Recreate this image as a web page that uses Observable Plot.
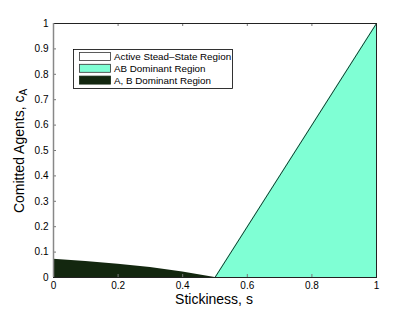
<!DOCTYPE html>
<html>
<head>
<meta charset="utf-8">
<script src="https://cdn.jsdelivr.net/npm/d3@7"></script>
<script src="https://cdn.jsdelivr.net/npm/@observablehq/plot@0.6"></script>
<style>
html,body{margin:0;padding:0;background:#fff;}
svg{display:block;}
</style>
</head>
<body>
<div id="chart"></div>
<script>
// A, B dominant region boundary
const abS = [0, 0.1, 0.2, 0.3, 0.4, 0.5];
const abC = [0.072, 0.063, 0.052, 0.039, 0.022, 0];
// AB dominant region boundary
const domS = [0.5, 1];
const domC = [0, 1];
const xTicks = [0, 0.2, 0.4, 0.6, 0.8, 1];
const yTicks = [0, 0.1, 0.2, 0.3, 0.4, 0.5, 0.6, 0.7, 0.8, 0.9, 1];
const legendLabels = ["Active Stead\u2013State Region", "AB Dominant Region", "A, B Dominant Region"];
const legendColors = ["#ffffff", "#7fffd4", "#13270f"];

const abData = abS.map((s, i) => ({s, c: abC[i]}));
const domData = domS.map((s, i) => ({s, c: domC[i]}));

const font = "Liberation Sans, Arial, Helvetica, sans-serif";
const W = 415, H = 312, mL = 53, mR = 39, mT = 23, mB = 35;
const fw = W - mL - mR, fh = H - mT - mB, tl = 3;

const plot = Plot.plot({
  width: W,
  height: H,
  marginLeft: mL,
  marginRight: mR,
  marginTop: mT,
  marginBottom: mB,
  style: {fontFamily: font, fontSize: "10px", background: "#fff", color: "#000"},
  x: {domain: [0, 1], label: null},
  y: {domain: [0, 1], label: null},
  marks: [
    Plot.tickY(yTicks, {y: d => d, insetLeft: fw - tl, stroke: "#777"}),
    Plot.areaY(abData, {x: "s", y: "c", fill: legendColors[2]}),
    Plot.areaY(domData, {x: "s", y: "c", fill: legendColors[1]}),
    Plot.line(domData, {x: "s", y: "c", stroke: "#000", strokeWidth: 0.8}),
    Plot.tickX(xTicks, {x: d => d, insetTop: fh - tl, stroke: "#777"}),
    Plot.tickX(xTicks, {x: d => d, insetBottom: fh - tl, stroke: "#777"}),
    Plot.tickY(yTicks, {y: d => d, insetRight: fw - tl, stroke: "#777"}),
    Plot.frame({stroke: "#222", strokeWidth: 1}),
    Plot.ruleX([0], {stroke: "#888", strokeWidth: 1.5}),
    Plot.axisX(xTicks, {anchor: "bottom", tickSize: 0, tickPadding: 4, tickFormat: d => String(d), fontSize: 10}),
    Plot.axisY(yTicks, {anchor: "left", tickSize: 0, tickPadding: 5, tickFormat: d => String(d), fontSize: 10})
  ]
});

document.getElementById("chart").appendChild(plot);

const svg = d3.select(plot);
// x label
svg.append("text")
  .attr("x", 214).attr("y", 304)
  .attr("text-anchor", "middle")
  .attr("font-family", font).attr("font-size", 14)
  .text("Stickiness, s");
// y label with subscript
const yl = svg.append("text")
  .attr("transform", "translate(24,151) rotate(-90)")
  .attr("text-anchor", "middle")
  .attr("font-family", font).attr("font-size", 14);
yl.append("tspan").text("Comitted Agents, c");
yl.append("tspan").attr("font-size", 10).attr("dy", 3).text("A");

// legend
const lg = svg.append("g").attr("font-family", font).attr("font-size", 9.8).attr("text-anchor", "start");
lg.append("rect").attr("x", 73.5).attr("y", 49.5).attr("width", 159).attr("height", 39)
  .attr("fill", "#fff").attr("stroke", "#000").attr("stroke-width", 0.8);
legendLabels.forEach((lab, i) => {
  const y0 = 52.5 + i * 11.8;
  lg.append("rect").attr("x", 79.5).attr("y", y0).attr("width", 31).attr("height", 8)
    .attr("fill", legendColors[i]).attr("stroke", i === 2 ? legendColors[2] : "#333").attr("stroke-width", 0.8);
  lg.append("text").attr("x", 114).attr("y", y0 + 7.5).attr("text-anchor", "start").text(lab);
});
</script>
</body>
</html>
